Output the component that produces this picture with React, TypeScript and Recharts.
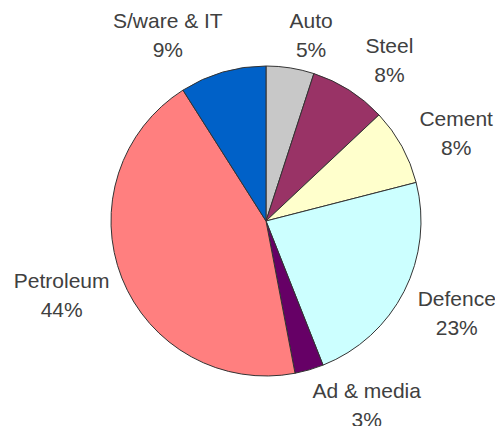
import React from 'react';
import { PieChart, Pie, Cell } from 'recharts';

// slices run clockwise from 12 o'clock
const sectors = ['Auto', 'Steel', 'Cement', 'Defence', 'Ad & media', 'Petroleum', 'S/ware & IT'];
const shares = [5, 8, 8, 23, 3, 44, 9];
const colors = ['#C8C8C8', '#993366', '#FFFFCC', '#CCFFFF', '#660066', '#FF7F7F', '#0061C8'];

const data = sectors.map((name, i) => ({ name, value: shares[i] }));

// hand-placed label tweaks, like the dragged labels in the original
const labelNudge: [number, number][] = [
  [16, -1], [21, -3], [18, 2], [11, 7], [40, 4], [-7, 5], [-36, -6],
];

const RADIAN = Math.PI / 180;
const FONT = 21;

// eslint-disable-next-line @typescript-eslint/no-explicit-any
function renderLabel(props: any) {
  const { cx, cy, midAngle, outerRadius, name, value, index } = props;
  const dx = Math.cos(-midAngle * RADIAN);
  const dy = Math.sin(-midAngle * RADIAN);
  const w = name.length * FONT * 0.5;
  const h = 44;
  const r = outerRadius + 10;
  const [nx, ny] = labelNudge[index] || [0, 0];
  const x = cx + r * dx + (dx * w) / 2 + nx;
  const yc = cy + r * dy + (dy * h) / 2 + ny;
  return (
    <text
      x={x}
      y={yc - 7}
      textAnchor="middle"
      fill="#404040"
      fontSize={FONT}
      fontFamily="'Liberation Sans', Arial, sans-serif"
    >
      <tspan x={x} dy={0}>{name}</tspan>
      <tspan x={x} dy={29}>{`${value}%`}</tspan>
    </text>
  );
}

export default function App() {
  return (
    <div style={{ width: 503, height: 434, margin: -8, background: '#fff' }}>
      <PieChart width={503} height={434} margin={{ top: 0, right: 0, bottom: 0, left: 0 }}>
        <Pie
          data={data}
          dataKey="value"
          nameKey="name"
          cx={266}
          cy={221}
          outerRadius={155}
          startAngle={90}
          endAngle={-270}
          stroke="#333"
          strokeWidth={1}
          label={renderLabel}
          labelLine={false}
          isAnimationActive={false}
        >
          {data.map((_, i) => (
            <Cell key={i} fill={colors[i]} />
          ))}
        </Pie>
      </PieChart>
    </div>
  );
}
